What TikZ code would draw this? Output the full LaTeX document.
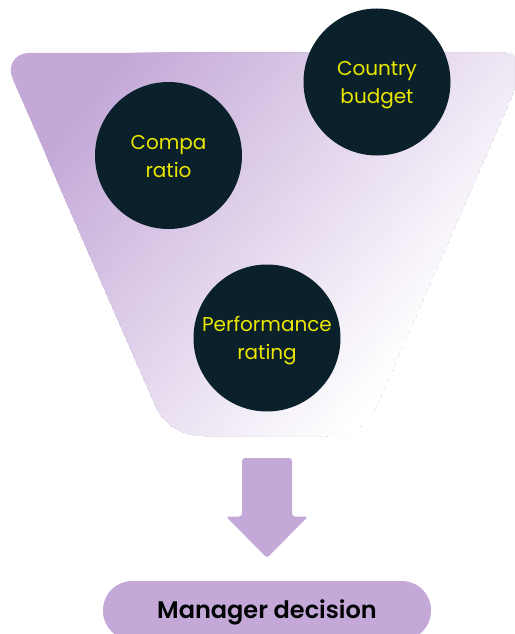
\documentclass[tikz,border=0pt]{standalone}
\usepackage{fontspec}
\setmainfont{Poppins}
\usepackage{tikz}
\definecolor{lilac}{HTML}{C4A9D8}
\definecolor{ink}{HTML}{0A212B}
\definecolor{acid}{HTML}{EBE600}
\newcommand{\topstrut}{\rule{0pt}{21pt}}
\newcommand{\botstrut}{\rule[-5pt]{0pt}{5pt}}
\tikzset{
  factor/.style={circle,fill=ink,text=acid,minimum size=147pt,inner sep=0pt,align=center,
    font=\fontsize{20}{28}\selectfont},
  decisionbox/.style={rounded corners=29pt,fill=lilac,minimum width=328pt,minimum height=59pt,inner sep=0pt,
    font=\fontsize{24}{28}\selectfont\fontspec{Poppins SemiBold},text=black!90!ink},
}
\begin{document}
\begin{tikzpicture}[x=1pt,y=-1pt]
\useasboundingbox (0,0) rectangle (514,634);
\clip (0,0) rectangle (514,634);
% funnel with a diagonal fade, painted back to front
\begin{scope}
\clip (30,53) -- (505,53) .. controls (518,53) and (525,66) .. (518,82)
  -- (378,402) .. controls (369,424) and (352,436) .. (327,436) -- (205,436)
  .. controls (180,436) and (163,424) .. (154,402) -- (14,82)
  .. controls (6,66) and (14,53) .. (30,53) -- cycle;
\begin{scope}[shift={(175,0)},rotate=-40]
\fill[lilac] (-400,-700) rectangle (900,700);
\foreach \t in {0,...,203}{
  \pgfmathsetmacro{\mix}{100-\t/2.03}
  \fill[lilac!\mix!white] (2*\t,-700) rectangle (900,700);
}
\end{scope}
\end{scope}
\node[factor] (country) at (377,82) {\topstrut Country\\budget\botstrut};
\node[factor] (compa) at (168.5,155.5) {\topstrut Compa\\ratio\botstrut};
\node[factor] (perf) at (267,338) {\topstrut Performance\\rating\botstrut};
% block arrow
\fill[lilac,rounded corners=3pt] (242,458) -- (292,458) -- (292,516.5) -- (308,516.5) -- (267,558) -- (226,516.5) -- (242,516.5) -- cycle;
\node[decisionbox] (decision) at (267,610.5) {\rule{0pt}{23pt}Manager decision};
\end{tikzpicture}
\end{document}
